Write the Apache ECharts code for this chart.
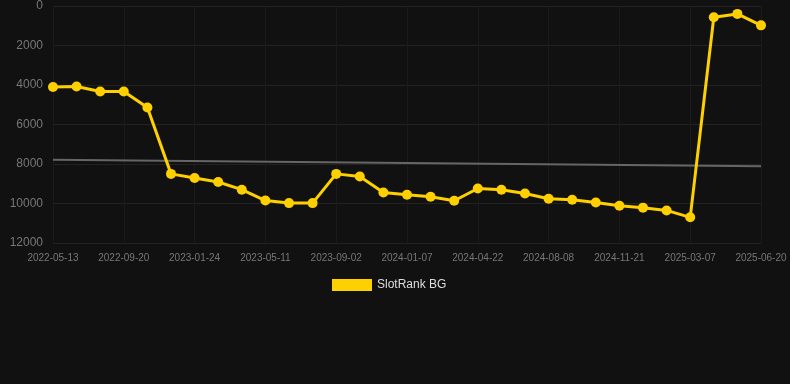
<!DOCTYPE html>
<html>
<head>
<meta charset="utf-8">
<script src="https://cdn.jsdelivr.net/npm/echarts@6/dist/echarts.min.js"></script>
<style>
  html, body { margin: 0; padding: 0; background: #111111; }
  #main { width: 790px; height: 384px; }
</style>
</head>
<body>
<div id="main"></div>
<script>
// dates of each rank reading
var dates = [
  '2022-05-13', '2022-06-25', '2022-08-07', '2022-09-20', '2022-11-01', '2022-12-13',
  '2023-01-24', '2023-03-01', '2023-04-06', '2023-05-11', '2023-06-18', '2023-07-26',
  '2023-09-02', '2023-10-14', '2023-11-26', '2024-01-07', '2024-02-11', '2024-03-17',
  '2024-04-22', '2024-05-28', '2024-07-03', '2024-08-08', '2024-09-12', '2024-10-17',
  '2024-11-21', '2024-12-26', '2025-01-30', '2025-03-07', '2025-04-11', '2025-05-16',
  '2025-06-20'
];
// rank values (lower is better, axis inverted)
var ranks = [
  4100, 4080, 4330, 4330, 5140, 8500,
  8710, 8910, 9300, 9850, 9980, 9980,
  8500, 8630, 9440, 9560, 9660, 9860,
  9240, 9300, 9490, 9760, 9810, 9950,
  10110, 10210, 10350, 10700, 570, 400,
  980
];
// trend line end points
var trendDates = ['2022-05-13', '2025-06-20'];
var trendValues = [7790, 8120];

var chart = echarts.init(document.getElementById('main'));
var option = {
  backgroundColor: '#111111',
  animation: false,
  grid: { left: 53, right: 29, top: 6, bottom: 141 },
  legend: {
    left: 327,
    bottom: 88,
    data: ['SlotRank BG'],
    icon: 'rect',
    itemWidth: 40,
    itemHeight: 12,
    textStyle: { color: '#dddddd', fontSize: 12 }
  },
  xAxis: {
    type: 'category',
    boundaryGap: false,
    data: dates,
    axisLine: { show: false },
    axisTick: { show: false },
    axisLabel: { interval: 2, color: '#777777', fontSize: 10, margin: 10 },
    splitLine: { show: true, interval: 2, lineStyle: { color: '#1a1a1a' } }
  },
  yAxis: {
    type: 'value',
    inverse: true,
    min: 0,
    max: 12000,
    interval: 2000,
    axisLine: { show: false },
    axisTick: { show: false },
    axisLabel: {
      color: '#777777',
      fontSize: 12,
      margin: 10,
      formatter: function (v) { return String(v); }
    },
    splitLine: { lineStyle: { color: '#222222' } }
  },
  series: [
    {
      name: 'SlotRank BG',
      type: 'line',
      data: ranks,
      symbol: 'circle',
      symbolSize: 10,
      lineStyle: { color: '#FFD000', width: 3 },
      itemStyle: { color: '#FFD000' },
      z: 3
    },
    {
      name: 'Trend',
      type: 'line',
      data: [[trendDates[0], trendValues[0]], [trendDates[1], trendValues[1]]],
      symbol: 'none',
      lineStyle: { color: '#666666', width: 2 },
      itemStyle: { color: '#666666' },
      z: 2
    }
  ]
};
chart.setOption(option);
</script>
</body>
</html>
